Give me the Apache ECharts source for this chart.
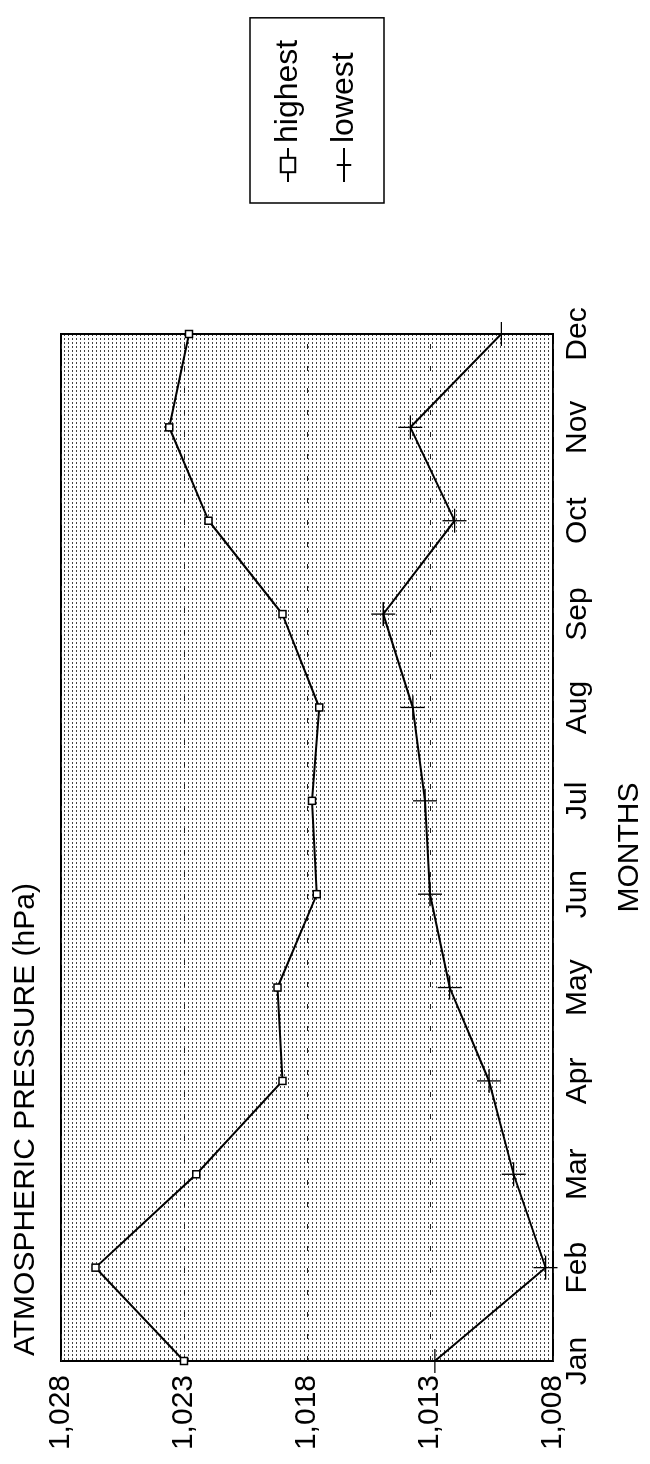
<!DOCTYPE html>
<html>
<head>
<meta charset="utf-8">
<title>Atmospheric pressure</title>
<script src="https://cdn.jsdelivr.net/npm/echarts@6/dist/echarts.min.js"></script>
<style>
html, body { margin: 0; padding: 0; background: #fff; overflow: hidden; }
body { width: 650px; height: 1464px; position: relative; }
/* chart is drawn landscape, then turned a quarter left like the scanned page */
#chart {
  position: absolute;
  left: 0;
  top: 1464px;
  width: 1464px;
  height: 650px;
  transform-origin: 0 0;
  transform: rotate(-90deg);
}
</style>
</head>
<body>
<div id="chart"></div>
<script>
var months = ['Jan', 'Feb', 'Mar', 'Apr', 'May', 'Jun', 'Jul', 'Aug', 'Sep', 'Oct', 'Nov', 'Dec'];
var highest = [1023.0, 1026.6, 1022.5, 1019.0, 1019.2, 1017.6, 1017.8, 1017.5, 1019.0, 1022.0, 1023.6, 1022.8];
var lowest = [1012.8, 1008.3, 1009.6, 1010.6, 1012.2, 1013.0, 1013.2, 1013.7, 1014.9, 1012.0, 1013.8, 1010.1];
var yTicks = [1008, 1013, 1018, 1023, 1028];

var font = '"Liberation Sans", Arial, Helvetica, sans-serif';

// stippled grey fill of the plot area
function dotPattern() {
  var c = document.createElement('canvas');
  c.width = 4;
  c.height = 4;
  var ctx = c.getContext('2d');
  ctx.fillStyle = '#ffffff';
  ctx.fillRect(0, 0, 4, 4);
  ctx.fillStyle = '#444444';
  ctx.fillRect(0, 0, 2, 1);
  return { image: c, repeat: 'repeat' };
}

function withComma(v) {
  return String(v).replace(/(\d)(?=(\d{3})+$)/, '$1,');
}

var myChart = echarts.init(document.getElementById('chart'), null, { renderer: 'canvas' });

var opt = {
  animation: false,
  backgroundColor: '#fff',
  title: {
    text: 'ATMOSPHERIC PRESSURE (hPa)',
    left: 103,
    top: 6,
    textStyle: { fontFamily: font, fontSize: 30, fontWeight: 'normal', color: '#000' }
  },
  legend: {
    orient: 'vertical',
    left: 1261,
    top: 250,
    padding: [22, 22, 24, 20],
    itemGap: 24,
    itemWidth: 34,
    itemHeight: 18,
    borderColor: '#000',
    borderWidth: 1.5,
    textStyle: { fontFamily: font, fontSize: 32, color: '#000' },
    data: ['highest', 'lowest']
  },
  grid: {
    left: 103,
    right: 334,
    top: 61,
    bottom: 97,
    show: true,
    borderColor: '#000',
    borderWidth: 2,
    backgroundColor: dotPattern()
  },
  xAxis: {
    type: 'category',
    boundaryGap: false,
    data: months,
    name: 'MONTHS',
    nameLocation: 'middle',
    nameGap: 62,
    nameTextStyle: { fontFamily: font, fontSize: 30, color: '#000' },
    axisLine: { show: false },
    axisTick: { show: false },
    axisLabel: { interval: 0, margin: 10, fontFamily: font, fontSize: 30, color: '#000' },
    splitLine: { show: false }
  },
  yAxis: {
    type: 'value',
    min: yTicks[0],
    max: yTicks[yTicks.length - 1],
    interval: 5,
    axisLine: { show: false },
    axisTick: { show: false },
    axisLabel: {
      margin: 14,
      fontFamily: font,
      fontSize: 30,
      color: '#000',
      formatter: function (v) { return withComma(v); }
    },
    splitLine: {
      show: true,
      lineStyle: { color: '#222', width: 1, type: [5, 17] }
    }
  },
  series: [
    {
      name: 'highest',
      type: 'line',
      data: highest,
      symbol: 'rect',
      symbolSize: 7,
      showAllSymbol: true,
      itemStyle: { color: '#fff', borderColor: '#000', borderWidth: 1.5 },
      lineStyle: { color: '#000', width: 2 }
    },
    {
      name: 'lowest',
      type: 'line',
      data: lowest,
      symbol: 'path://M0,10L20,10M10,0L10,20',
      symbolSize: 24,
      showAllSymbol: true,
      itemStyle: { color: 'rgba(0,0,0,0)', borderColor: '#000', borderWidth: 1.3 },
      lineStyle: { color: '#000', width: 2 }
    }
  ]
};

myChart.setOption(opt);
</script>
</body>
</html>
